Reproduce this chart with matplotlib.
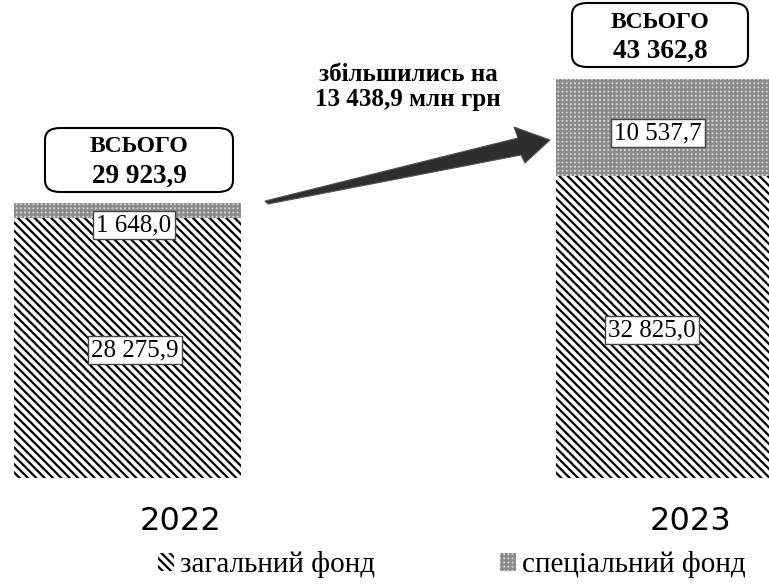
import numpy as np
import matplotlib
matplotlib.use("Agg")
import matplotlib.pyplot as plt
from matplotlib.patches import FancyBboxPatch, Polygon

years = ["2022", "2023"]
general_fund = [28275.9, 32825.0]
special_fund = [1648.0, 10537.7]
totals = ["29 923,9", "43 362,8"]
general_labels = ["28 275,9", "32 825,0"]
special_labels = ["1 648,0", "10 537,7"]
legend_names = ["загальний фонд", "спеціальний фонд"]
growth_text = "збільшились на\n13 438,9 млн грн"

W, H = 769, 585
plt.rcParams["hatch.linewidth"] = 1.6
serif = "Liberation Serif"

fig = plt.figure(figsize=(W / 100, H / 100), dpi=100)
# axes bottom at y=478 px, top of figure
ax = fig.add_axes([0, 1 - 478 / H, 1, 478 / H])
x = np.arange(len(years))
width = 227 / 542
ax.set_xlim(-127.5 / 542, 1 + (769 - 669.5) / 542)
ax.set_ylim(0, 29923.9 * 478 / 275)
ax.axis("off")

b1 = ax.bar(x, general_fund, width, color="white", edgecolor="black",
            hatch="\\\\\\\\", linewidth=0)
b2 = ax.bar(x, special_fund, width, bottom=general_fund, color="#d4d4d4",
            edgecolor="#8a8a8a", hatch="++++", linewidth=0)

# value labels (white boxes)
lbl_pos = [(134, 225), (135, 350), (658, 133), (652, 330)]
lbl_txt = [special_labels[0], general_labels[0], special_labels[1], general_labels[1]]
for (px, py), t in zip(lbl_pos, lbl_txt):
    fig.text(px / W, 1 - py / H, t, ha="center", va="center", fontsize=18,
             family=serif,
             bbox=dict(boxstyle="square,pad=0.12", fc="white", ec="#444444", lw=1))

# total boxes
for (cx, cy, bw, bh), t in zip([(139, 160, 188, 64), (660, 35, 176, 64)], totals):
    box = FancyBboxPatch(((cx - bw / 2) / W, 1 - (cy + bh / 2) / H), bw / W, bh / H,
                         boxstyle="round,pad=0,rounding_size=0.02",
                         transform=fig.transFigure, fc="white", ec="black", lw=1.5)
    fig.patches.append(box)
    fig.text(cx / W, 1 - (cy - 13) / H, "ВСЬОГО", ha="center", va="center",
             fontsize=17, fontweight="bold", family=serif)
    fig.text(cx / W, 1 - (cy + 16) / H, t, ha="center", va="center",
             fontsize=19.5, fontweight="bold", family=serif)

# arrow
pts = [(265, 201), (518, 138), (514, 127), (550, 140), (525, 163), (521, 155), (268, 204)]
arrow = Polygon([(px / W, 1 - py / H) for px, py in pts], closed=True,
                transform=fig.transFigure, fc="#2e2e2e", ec="#555555", lw=0.8)
fig.patches.append(arrow)
fig.text(408 / W, 1 - 87 / H, growth_text, ha="center", va="center",
         fontsize=18, fontweight="bold", family=serif, linespacing=1.15)

# years
fig.text(181 / W, 1 - 522 / H, years[0], ha="center", va="center", fontsize=23)
fig.text(690 / W, 1 - 522 / H, years[1], ha="center", va="center", fontsize=23)

fig.legend([b1, b2], legend_names, loc="center",
           bbox_to_anchor=(452 / W, 1 - 565 / H), ncol=2, frameon=False,
           prop={"family": serif, "size": 21}, handlelength=0.55,
           handleheight=0.55, handletextpad=0.2, columnspacing=4.3)

fig.savefig("out.png", dpi=100)
